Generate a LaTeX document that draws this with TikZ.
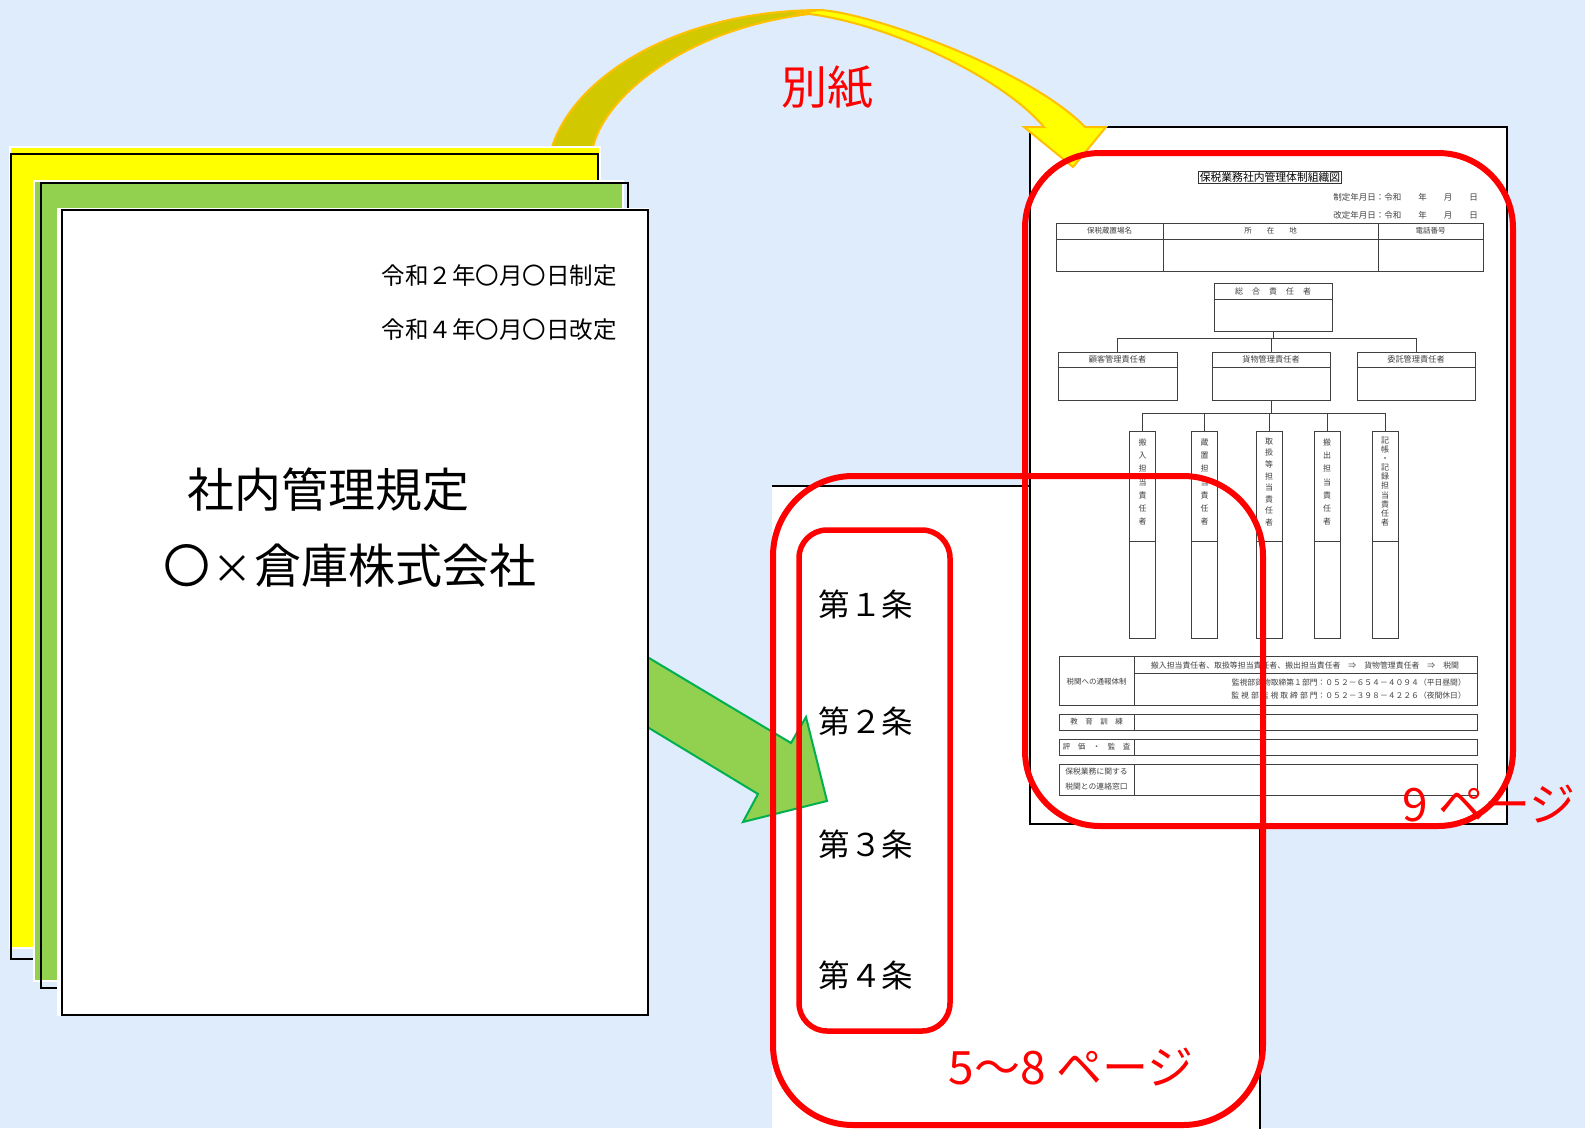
\documentclass[tikz,border=0pt]{standalone}
\usepackage{fontspec}
\newfontfamily\jpf{Noto Sans CJK JP}
\usetikzlibrary{calc}
\definecolor{bgblue}{RGB}{222,236,251}
\definecolor{pyellow}{RGB}{255,255,0}
\definecolor{pgreen}{RGB}{146,208,80}
\definecolor{gline}{RGB}{0,176,80}
\definecolor{olive}{RGB}{210,200,0}
\definecolor{oline}{RGB}{255,192,0}
\definecolor{redc}{RGB}{255,0,0}
\tikzset{
  pagefill/.style={draw=white, line width=1.5pt},
  pageborder/.style={draw=black, line width=2.5pt},
  orgl/.style={draw=black!75, line width=0.9pt},
  orgt/.style={font=\jpf\fontsize{7.5}{9}\selectfont, text=black!75, inner sep=0pt},
  hbox/.style={orgl, minimum width=119pt, minimum height=48pt, inner sep=0pt, anchor=north},
  vbox/.style={orgl, minimum width=26pt, minimum height=207pt, inner sep=0pt, anchor=north},
  redframe/.style={draw=redc, line width=6pt, rounded corners=#1},
  bigtxt/.style={font=\jpf\fontsize{47}{54}\selectfont, inner sep=0pt},
  datetxt/.style={font=\jpf\fontsize{23.5}{28}\selectfont, inner sep=0pt},
  arttxt/.style={font=\jpf\fontsize{31.5}{36}\selectfont, inner sep=0pt},
  redtxt/.style={font=\jpf\fontsize{46}{52}\selectfont, text=redc, inner sep=0pt},
}
\begin{document}
\begin{tikzpicture}[x=1pt,y=-1pt]
\useasboundingbox (0,0) rectangle (1585,1128);
\fill[bgblue] (0,0) rectangle (1585,1128);

% ---- page 2 (articles) ----
\fill[white] (772,486) rectangle (1260,1140);
\draw[black, line width=2pt] (772,486) -- (1030,486);
\draw[black, line width=2pt] (1260,820) -- (1260,1140);

% ---- org chart page ----
\filldraw[fill=white, draw=black, line width=2pt] (1030,127) rectangle (1507,824);

\node[draw=black!80, line width=0.8pt, font=\jpf\fontsize{10.8}{12}\selectfont, inner sep=1pt] (title) at (1270,177) {保税業務社内管理体制組織図};
\node[orgt, font=\jpf\fontsize{8.5}{10}\selectfont, anchor=east] (seitei) at (1478,197) {制定年月日：令和　　年　　月　　日};
\node[orgt, font=\jpf\fontsize{8.5}{10}\selectfont, anchor=east] (kaitei) at (1478,215) {改定年月日：令和　　年　　月　　日};

% location table
\draw[orgl] (1056,223) rectangle (1483,271);
\draw[orgl] (1056,239) -- (1483,239);
\draw[orgl] (1163,223) -- (1163,271);
\draw[orgl] (1378,223) -- (1378,271);
\node[orgt] (h1) at (1109.5,231) {保税蔵置場名};
\node[orgt] (h2) at (1270.5,231) {所　　在　　地};
\node[orgt] (h3) at (1430.5,231) {電話番号};

% hierarchy boxes
\node[hbox, minimum width=118pt] (sogo) at (1273,283) {};
\draw[orgl] ($(sogo.north west)+(0,16)$) -- ($(sogo.north east)+(0,16)$);
\node[orgt, font=\jpf\fontsize{8}{9}\selectfont] (sogot) at ($(sogo.north)+(0,8)$) {総\hspace{9pt}合\hspace{9pt}責\hspace{9pt}任\hspace{9pt}者};

\node[hbox] (koku) at (1117.5,352) {};
\node[hbox, minimum width=118pt] (kamotsu) at (1271,352) {};
\node[hbox, minimum width=118pt] (itaku) at (1416,352) {};
\foreach \b in {koku,kamotsu,itaku}{
  \draw[orgl] ($(\b.north west)+(0,15)$) -- ($(\b.north east)+(0,15)$);
}
\node[orgt, font=\jpf\fontsize{8.2}{9}\selectfont] (kokut) at ($(koku.north)+(0,7.5)$) {顧客管理責任者};
\node[orgt, font=\jpf\fontsize{8.2}{9}\selectfont] (kamotsut) at ($(kamotsu.north)+(0,7.5)$) {貨物管理責任者};
\node[orgt, font=\jpf\fontsize{8.2}{9}\selectfont] (itakut) at ($(itaku.north)+(0,7.5)$) {委託管理責任者};

\coordinate (busA) at (1273,338);
\draw[orgl] (sogo.south) -- (busA);
\draw[orgl] (koku.north) |- (busA);
\draw[orgl] (itaku.north) |- (busA);
\draw[orgl] (kamotsu.north) -- (kamotsu.north |- busA);

\node[vbox] (v1) at (1142.5,431) {};
\node[vbox] (v2) at (1204.5,431) {};
\node[vbox] (v3) at (1269,431) {};
\node[vbox] (v4) at (1327,431) {};
\node[vbox] (v5) at (1385,431) {};
\foreach \b in {v1,v2,v3,v4,v5}{
  \draw[orgl] ($(\b.north west)+(0,110)$) -- ($(\b.north east)+(0,110)$);
}
\coordinate (busB) at (1271,413);
\draw[orgl] (kamotsu.south) -- (busB);
\draw[orgl] (v1.north) |- (busB);
\draw[orgl] (v2.north) |- (busB);
\draw[orgl] (v3.north) -- (v3.north |- busB);
\draw[orgl] (v4.north) |- (busB);
\draw[orgl] (v5.north) |- (busB);

\node[orgt, align=center, font=\jpf\fontsize{8}{13.3}\selectfont] (v1t) at (1142.5,482) {搬\\入\\担\\当\\責\\任\\者};
\node[orgt, align=center, font=\jpf\fontsize{8}{13.3}\selectfont] (v2t) at (1204.5,482) {蔵\\置\\担\\当\\責\\任\\者};
\node[orgt, align=center, font=\jpf\fontsize{8}{11.6}\selectfont] (v3t) at (1269,482) {取\\扱\\等\\担\\当\\責\\任\\者};
\node[orgt, align=center, font=\jpf\fontsize{8}{13.3}\selectfont] (v4t) at (1327,482) {搬\\出\\担\\当\\責\\任\\者};
\node[orgt, align=center, font=\jpf\fontsize{8}{9.1}\selectfont] (v5t) at (1385,481.5) {記\\帳\\・\\記\\録\\担\\当\\責\\任\\者};

% contact tables
\draw[orgl] (1059,656) rectangle (1477,705);
\draw[orgl] (1134,656) -- (1134,705);
\draw[orgl] (1134,673) -- (1477,673);
\node[orgt] (c1) at (1096.5,682) {税関への通報体制};
\node[orgt, font=\jpf\fontsize{7.9}{9}\selectfont] (c2) at (1305,665) {搬入担当責任者、取扱等担当責任者、搬出担当責任者　⇒　貨物管理責任者　⇒　税関};
\node[orgt, font=\jpf\fontsize{7.8}{9}\selectfont, anchor=east] (c3) at (1466,683) {監視部貨物取締第１部門：０５２－６５４－４０９４（平日昼間）};
\node[orgt, font=\jpf\fontsize{7.8}{9}\selectfont, anchor=east] (c4) at (1466,696) {監\kern2pt 視\kern2pt 部\kern2pt 監\kern2pt 視\kern2pt 取\kern2pt 締\kern2pt 部\kern2pt 門：０５２－３９８－４２２６（夜間休日）};

\draw[orgl] (1059,714) rectangle (1477,730);
\draw[orgl] (1134,714) -- (1134,730);
\node[orgt] (e1) at (1096.5,722) {教　育　訓　練};
\draw[orgl] (1059,739) rectangle (1477,755);
\draw[orgl] (1134,739) -- (1134,755);
\node[orgt] (e2) at (1096.5,747) {評　価　・　監　査};
\draw[orgl] (1059,764) rectangle (1477,795);
\draw[orgl] (1134,764) -- (1134,795);
\node[orgt, font=\jpf\fontsize{7.8}{9}\selectfont] (e3) at (1096.5,772) {保税業務に関する};
\node[orgt, font=\jpf\fontsize{7.8}{9}\selectfont] (e4) at (1096.5,787) {税関との連絡窓口};

% ---- green block arrow ----
\filldraw[fill=pgreen, draw=gline, line width=2pt, line join=miter]
  (630,646.6) -- (791,743) -- (806,717) -- (827,801) -- (743,822) -- (758,794) -- (630,716.5) -- cycle;

% ---- yellow curved arrow ----
\filldraw[fill=olive, draw=oline, line width=2pt]
  (550,162) -- (552,147) .. controls (575,75) and (680,10) .. (822,10)
  -- (819,13) .. controls (690,25) and (605,95) .. (593,147) -- (592,162) -- cycle;
\filldraw[fill=pyellow, draw=oline, line width=2pt, line join=miter]
  (819,10) .. controls (870,12) and (1030,70) .. (1085,127)
  -- (1106,127) -- (1073,167) -- (1024,127) -- (1044,127)
  .. controls (1000,75) and (880,20) .. (800,13) -- cycle;
\node[redtxt] (besshi) at (827,87) {別紙};

% ---- left page stack ----
\filldraw[fill=pyellow, pagefill] (10,147) rectangle (600,948);
\draw[pageborder] (11,154) rectangle (598,959);
\filldraw[fill=pgreen, pagefill] (34,181) rectangle (623,981);
\draw[pageborder] (41,183) rectangle (628,988);
\filldraw[fill=white, pagefill] (58,209) rectangle (648,1015);
\draw[pageborder] (62,210) rectangle (648,1015);

\node[datetxt, anchor=east] (d1) at (617,276) {令和２年〇月〇日制定};
\node[datetxt, anchor=east] (d2) at (617,330) {令和４年〇月〇日改定};
\node[bigtxt] (kitei) at (328,490) {社内管理規定};
\node[bigtxt] (kaisha) at (350,566) {〇\hspace{0.04em}{\fontsize{40}{48}\selectfont ×}\hspace{0.04em}倉庫株式会社};

% ---- article texts ----
\node[arttxt] (a1) at (866,604) {第１条};
\node[arttxt] (a2) at (866,721) {第２条};
\node[arttxt] (a3) at (866,844) {第３条};
\node[arttxt] (a4) at (866,975) {第４条};

% ---- red frames ----
\draw[redframe=75pt] (1025,153) rectangle (1513,826);
\draw[redframe=80pt] (773,476) rectangle (1263,1125);
\draw[redframe=28pt, line width=5.5pt] (799,530) rectangle (950,1031);

\node[redtxt] (p58) at (1071,1067) {5～8 ページ};
\node[redtxt, anchor=west] (p9) at (1402,804) {9 ページ};
\end{tikzpicture}
\end{document}
